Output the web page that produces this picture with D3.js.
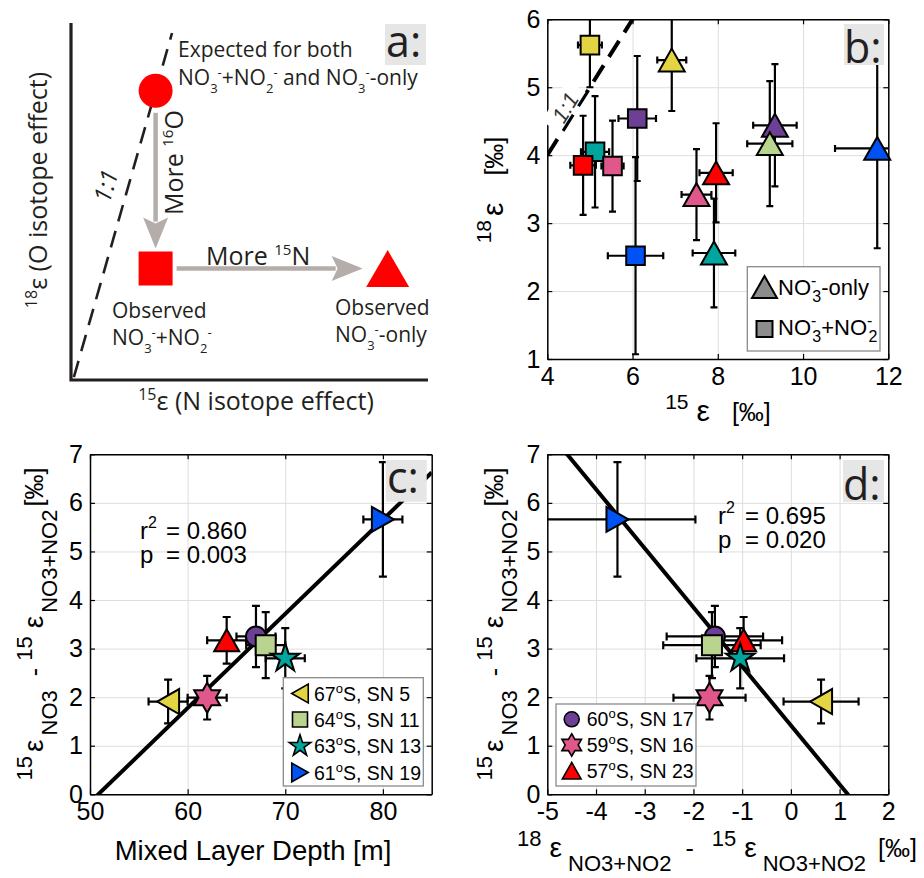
<!DOCTYPE html>
<html>
<head>
<meta charset="utf-8">
<script src="https://cdn.jsdelivr.net/npm/d3@7"></script>
<style>
body { margin: 0; background: #fff; }
svg { display: block; }
text { font-family: "Liberation Sans", Arial, sans-serif; white-space: pre; }
.sk text { font-family: "Open Sans", sans-serif; fill: #231f20; }
</style>
</head>
<body>
<script>
// ---- panel a: schematic, arbitrary units ----
const schemX = [2.37, 2.37, 8.87];   // expected, observed NO3+NO2, observed NO3-only
const schemY = [8.10, 3.12, 3.12];
const schemShape = ["o", "s", "^"];
const oneToOneA = [[0.08, 0.08], [2.83, 9.72]];

// ---- panel b ----
const bTicksX = [4, 6, 8, 10, 12];
const bTicksY = [1, 2, 3, 4, 5, 6];
const oneToOneB = [4, 6.3];
// squares: NO3- + NO2-
const sqStation = ["SN 5", "SN 13", "SN 23", "SN 16", "SN 17", "SN 19"];
const sqE15 = [5.00, 5.12, 4.84, 5.53, 6.11, 6.07];
const sqE15Err = [0.28, 0.33, 0.30, 0.26, 0.44, 0.65];
const sqE18 = [5.62, 4.05, 3.85, 3.84, 4.54, 2.52];
const sqE18Err = [0.62, 0.82, 0.73, 0.67, 0.92, 1.45];
// triangles: NO3- only
const triStation = ["SN 5", "SN 17", "SN 11", "SN 19", "SN 23", "SN 16", "SN 13"];
const triE15 = [6.92, 9.34, 9.22, 11.74, 7.96, 7.50, 7.91];
const triE15Err = [0.34, 0.51, 0.53, 0.99, 0.39, 0.35, 0.50];
const triE18 = [5.40, 4.44, 4.17, 4.10, 3.74, 3.42, 2.56];
const triE18Err = [0.75, 0.90, 0.92, 1.47, 0.73, 0.67, 0.80];

// ---- panels c and d ----
const station = ["SN 5", "SN 16", "SN 23", "SN 17", "SN 11", "SN 13", "SN 19"];
const latitude = [67, 59, 57, 60, 64, 63, 61];
const shape = ["<", "h", "^", "o", "s", "p", ">"];
const mld = [58, 62, 64, 67, 68, 70, 80];
const mldErr = [2, 2, 2, 2, 2, 2, 2];
const dEps15 = [1.91, 1.99, 3.17, 3.25, 3.07, 2.80, 5.66];
const dEps15Err = [0.45, 0.45, 0.48, 0.63, 0.68, 0.62, 1.18];
const dEpsOx = [0.62, -1.67, -0.97, -1.56, -1.62, -1.04, -3.56];
const dEpsOxErr = [0.77, 0.74, 0.79, 0.99, 1.00, 0.90, 1.60];
const fitC = [0.194, -9.865];   // slope, intercept
const fitD = [-1.215, 1.42];
const statC = ["0.860", "0.003"];
const statD = ["0.695", "0.020"];
const cTicksX = [50, 60, 70, 80];
const dTicksX = [-5, -4, -3, -2, -1, 0, 1, 2];
const cdTicksY = [0, 1, 2, 3, 4, 5, 6, 7];
const legendC = ["SN 5", "SN 11", "SN 13", "SN 19"];
const legendD = ["SN 17", "SN 16", "SN 23"];

const stationColor = {
  "SN 5": "#e2d443", "SN 11": "#b9d48e", "SN 13": "#00a69e", "SN 19": "#0052f4",
  "SN 17": "#6d3f95", "SN 16": "#e0588b", "SN 23": "#ff0000"
};

const svg = d3.select("body").append("svg").attr("width", 924).attr("height", 878);

function markerPath(sh, r) {
  if (sh === "o") return d3.symbol(d3.symbolCircle, Math.PI * r * r)();
  if (sh === "s") return `M${-r},${-r}H${r}V${r}H${-r}Z`;
  const w = r * 1.25, h = r * 1.1;
  if (sh === "^") return `M0,${-h}L${w},${h}L${-w},${h}Z`;
  if (sh === "<") return `M${-h},0L${h},${-w}L${h},${w}Z`;
  if (sh === ">") return `M${h},0L${-h},${-w}L${-h},${w}Z`;
  const n = sh === "p" ? 5 : 6, R = r * 1.5;
  const ri = sh === "p" ? R * 0.382 : R / Math.sqrt(3);
  const pts = d3.range(2 * n).map(i => {
    const a = -Math.PI / 2 + i * Math.PI / n, rr = i % 2 ? ri : R;
    return [rr * Math.cos(a), rr * Math.sin(a)];
  });
  return "M" + pts.join("L") + "Z";
}

// text with sub/superscripts: parts = [text, kind, dx, absX]
function rich(g, parts, o) {
  const t = g.append("text").attr("font-size", o.size);
  let cur = 0;
  parts.forEach(([s, k, dx, ax]) => {
    const shift = k === "sub" ? o.sub : k === "sup" ? -o.sup : 0;
    const ts = t.append("tspan").attr("dy", shift - cur).text(s)
      .attr("font-size", k ? o.small : (o.big && s === "ε" ? o.big : o.size));
    if (dx) ts.attr("dx", dx);
    if (ax !== undefined) ts.attr("x", ax);
    cur = shift;
  });
  return t;
}

function frame(g, x, y, xt, yt, id) {
  const [xl, xr] = x.range(), [yb, yt0] = y.range();
  const w = xr - xl, h = yb - yt0;
  svg.append("clipPath").attr("id", id).append("rect")
    .attr("x", xl).attr("y", yt0).attr("width", w).attr("height", h);
  const grid = g.append("g");
  grid.append("g").attr("transform", `translate(0,${yb})`)
    .call(d3.axisBottom(x).tickValues(xt).tickSize(-h).tickFormat(""));
  grid.append("g").attr("transform", `translate(${xl},0)`)
    .call(d3.axisLeft(y).tickValues(yt).tickSize(-w).tickFormat(""));
  grid.selectAll(".domain").remove();
  grid.selectAll("line").attr("stroke", "#dedede").attr("stroke-width", 1);
}

function axes(g, x, y, xt, yt) {
  const [xl, xr] = x.range(), [yb, yt0] = y.range();
  const fmt = d => String(d);
  const ax = g.append("g");
  ax.append("g").attr("transform", `translate(0,${yb})`)
    .call(d3.axisBottom(x).tickValues(xt).tickSizeInner(-5).tickSizeOuter(0).tickPadding(8).tickFormat(fmt));
  ax.append("g").attr("transform", `translate(0,${yt0})`)
    .call(d3.axisTop(x).tickValues(xt).tickSizeInner(-5).tickSizeOuter(0).tickFormat(""));
  ax.append("g").attr("transform", `translate(${xl},0)`)
    .call(d3.axisLeft(y).tickValues(yt).tickSizeInner(-5).tickSizeOuter(0).tickPadding(7).tickFormat(fmt));
  ax.append("g").attr("transform", `translate(${xr},0)`)
    .call(d3.axisRight(y).tickValues(yt).tickSizeInner(-5).tickSizeOuter(0).tickFormat(""));
  ax.selectAll(".domain").attr("stroke", "#000").attr("stroke-width", 1.5);
  ax.selectAll(".tick line").attr("stroke", "#000").attr("stroke-width", 1.2);
  ax.selectAll("text").attr("font-size", 25).attr("fill", "#000")
    .attr("font-family", "Liberation Sans, Arial, sans-serif");
}

function errBars(g, x, y, pts, cap, id) {
  g.append("g").attr("clip-path", `url(#${id})`)
    .selectAll("path").data(pts).join("path")
    .attr("fill", "none").attr("stroke", "#000").attr("stroke-width", 2.2)
    .attr("d", p => {
      const cx = x(p.x), cy = y(p.y);
      const y1 = y(p.y + p.ye), y2 = y(p.y - p.ye);
      const x1 = x(p.x - p.xe), x2 = x(p.x + p.xe);
      return `M${cx},${y1}V${y2}M${cx - cap},${y1}H${cx + cap}M${cx - cap},${y2}H${cx + cap}` +
        `M${x1},${cy}H${x2}M${x1},${cy - cap}V${cy + cap}M${x2},${cy - cap}V${cy + cap}`;
    });
}

function markers(g, x, y, pts, r) {
  g.append("g").selectAll("path").data(pts).join("path")
    .attr("transform", p => `translate(${x(p.x)},${y(p.y)})`)
    .attr("d", p => markerPath(p.shape, r))
    .attr("fill", p => p.color).attr("stroke", "#000").attr("stroke-width", 2);
}

function tag(rx, ry, rw, rh, s, tx, ty) {
  const g = svg.append("g").attr("class", "sk");
  g.append("rect").attr("x", rx).attr("y", ry).attr("width", rw).attr("height", rh).attr("fill", "#e6e6e6");
  g.append("text").attr("x", tx).attr("y", ty).attr("font-size", 43).text(s);
}

function arrow(g, x1, y1, x2, y2) {
  const L = Math.hypot(x2 - x1, y2 - y1), ux = (x2 - x1) / L, uy = (y2 - y1) / L;
  const px = -uy, py = ux, hl = 31, hw = 12.5;
  g.append("line").attr("x1", x1).attr("y1", y1)
    .attr("x2", x2 - ux * (hl - 4)).attr("y2", y2 - uy * (hl - 4))
    .attr("stroke", "#b4adaa").attr("stroke-width", 4.5);
  const bx = x2 - ux * hl, by = y2 - uy * hl;
  g.append("path").attr("fill", "#b4adaa")
    .attr("d", `M${x2},${y2}L${bx + px * hw},${by + py * hw}L${x2 - ux * (hl - 6)},${y2 - uy * (hl - 6)}L${bx - px * hw},${by - py * hw}Z`);
}

// ================= panel a =================
const xa = d3.scaleLinear().domain([0, 10]).range([71, 428]);
const ya = d3.scaleLinear().domain([0, 10]).range([380, 23]);
const ga = svg.append("g").attr("class", "sk");
ga.append("path").attr("d", `M${xa(0)},${ya(10)}V${ya(0)}H${xa(10)}`)
  .attr("fill", "none").attr("stroke", "#231f20").attr("stroke-width", 3.2);
ga.append("path").attr("d", d3.line()(oneToOneA.map(p => [xa(p[0]), ya(p[1])])))
  .attr("fill", "none").attr("stroke", "#231f20").attr("stroke-width", 2.6).attr("stroke-dasharray", "17 10");
ga.append("text").attr("transform", "translate(106,186) rotate(-74)").attr("text-anchor", "middle")
  .attr("dy", "0.35em").attr("font-size", 24).attr("font-style", "italic")
  .attr("stroke", "#fff").attr("stroke-width", 5).attr("paint-order", "stroke").text("1:1");
arrow(ga, xa(schemX[0]), ya(schemY[0]) + 22, xa(schemX[1]), ya(schemY[1]) - 20);
arrow(ga, xa(schemX[1]) + 21, ya(schemY[1]), xa(schemX[2]) - 25, ya(schemY[2]));
ga.append("g").selectAll("path").data(schemX).join("path")
  .attr("transform", (d, i) => `translate(${xa(d)},${ya(schemY[i])})`)
  .attr("d", (d, i) => schemShape[i] === "^"
    ? "M0,-18.5L21.5,18.5L-21.5,18.5Z" : markerPath(schemShape[i], 17))
  .attr("fill", "#ff0000");

const aTxt = { size: 21, small: 13, sub: 8, sup: 8 };
rich(ga, [["Expected for both"]], aTxt).attr("x", 178).attr("y", 57);
rich(ga, [["NO"], ["3", "sub"], ["-", "sup"], ["+NO"], ["2", "sub"], ["-", "sup"], [" and NO"], ["3", "sub"], ["-", "sup"], ["-only"]], aTxt)
  .attr("x", 178).attr("y", 85);
rich(ga, [["Observed"]], aTxt).attr("x", 112).attr("y", 318);
rich(ga, [["NO"], ["3", "sub"], ["-", "sup"], ["+NO"], ["2", "sub"], ["-", "sup"]], aTxt).attr("x", 112).attr("y", 345);
rich(ga, [["Observed"]], aTxt).attr("x", 335).attr("y", 315);
rich(ga, [["NO"], ["3", "sub"], ["-", "sup"], ["-only"]], aTxt).attr("x", 335).attr("y", 342);
const moreTxt = { size: 25, small: 15, sub: 8, sup: 10 };
rich(ga, [["More "], ["16", "sup"], ["O"]], moreTxt).attr("transform", "translate(183,215) rotate(-90)");
rich(ga, [["More "], ["15", "sup"], ["N"]], moreTxt).attr("x", 206).attr("y", 265);
const axTxt = { size: 25, small: 16, sub: 8, sup: 10 };
rich(ga, [["18", "sup"], ["ε"], [" (O isotope effect)"]], axTxt)
  .attr("text-anchor", "middle").attr("transform", "translate(47,190) rotate(-90)");
rich(ga, [["15", "sup"], ["ε"], [" (N isotope effect)"]], axTxt)
  .attr("text-anchor", "middle").attr("x", 256).attr("y", 410);

// ================= panel b =================
const xb = d3.scaleLinear().domain([4, 12]).range([547.3, 888.3]);
const yb = d3.scaleLinear().domain([1, 6]).range([359, 19.3]);
const gb = svg.append("g");
frame(gb, xb, yb, bTicksX, bTicksY, "clipB");
axes(gb, xb, yb, bTicksX, bTicksY);
gb.append("path").attr("clip-path", "url(#clipB)")
  .attr("d", d3.line()(oneToOneB.map(v => [xb(v), yb(v)])))
  .attr("fill", "none").attr("stroke", "#000").attr("stroke-width", 4).attr("stroke-dasharray", "19 10");
const oneB = gb.append("g").attr("transform", `translate(${xb(4.42)},${yb(4.70)}) rotate(-58)`);
oneB.append("rect").attr("x", -24).attr("y", -13).attr("width", 48).attr("height", 22).attr("fill", "#fff");
oneB.append("text").attr("text-anchor", "middle").attr("dy", "0.35em").attr("font-size", 22)
  .attr("font-style", "italic").attr("font-family", "Open Sans, sans-serif").attr("fill", "#333").text("1:1");
const sqPts = sqStation.map((s, i) => ({ x: sqE15[i], y: sqE18[i], xe: sqE15Err[i], ye: sqE18Err[i], shape: "s", color: stationColor[s] }));
const triPts = triStation.map((s, i) => ({ x: triE15[i], y: triE18[i], xe: triE15Err[i], ye: triE18Err[i], shape: "^", color: stationColor[s] }));
errBars(gb, xb, yb, sqPts.concat(triPts), 3.5, "clipB");
markers(gb, xb, yb, sqPts, 9.3);
markers(gb, xb, yb, triPts, 10.4);
const labTxt = { size: 25, small: 21, sub: 15, sup: 12, big: 30 };
rich(gb, [["18", "sup"], ["ε", "", 4], ["[‰]", "", 27]], labTxt)
  .attr("text-anchor", "middle").attr("transform", "translate(503,190) rotate(-90)");
rich(gb, [["15", "sup"], ["ε", "", 8], ["[‰]", "", 22]], labTxt)
  .attr("text-anchor", "middle").attr("x", 718).attr("y", 421);
// legend b
const lb = gb.append("g");
lb.append("rect").attr("x", 747.3).attr("y", 266.7).attr("width", 132.7).attr("height", 84.3)
  .attr("fill", "#fff").attr("stroke", "#8a8a8a").attr("stroke-width", 1.3);
lb.append("path").attr("transform", "translate(764.5,287)").attr("d", markerPath("^", 10))
  .attr("fill", "#8c8c8c").attr("stroke", "#000").attr("stroke-width", 2);
lb.append("path").attr("transform", "translate(764.5,329)").attr("d", markerPath("s", 8))
  .attr("fill", "#8c8c8c").attr("stroke", "#000").attr("stroke-width", 2);
const lbTxt = { size: 22, small: 16, sub: 7, sup: 9 };
rich(lb, [["NO"], ["-", "sup"], ["3", "sub", -4], ["-only"]], lbTxt).attr("x", 778).attr("y", 295);
rich(lb, [["NO"], ["-", "sup"], ["3", "sub", -4], ["+NO"], ["-", "sup"], ["2", "sub", -4]], lbTxt).attr("x", 778).attr("y", 335);

// ================= panel c =================
const xc = d3.scaleLinear().domain([50, 85]).range([90, 431.7]);
const yc = d3.scaleLinear().domain([0, 7]).range([794.3, 454.3]);
const gc = svg.append("g");
frame(gc, xc, yc, cTicksX, cdTicksY, "clipC");
axes(gc, xc, yc, cTicksX, cdTicksY);
gc.append("path").attr("clip-path", "url(#clipC)")
  .attr("d", d3.line()(xc.domain().map(v => [xc(v), yc(fitC[0] * v + fitC[1])])))
  .attr("stroke", "#000").attr("stroke-width", 4).attr("fill", "none");
const cPts = station.map((s, i) => ({ x: mld[i], y: dEps15[i], xe: mldErr[i], ye: dEps15Err[i], shape: shape[i], color: stationColor[s] }));
errBars(gc, xc, yc, cPts, 4, "clipC");
markers(gc, xc, yc, cPts, 10);
const cdLab = { size: 25, small: 22, sub: 14, sup: 11, big: 28 };
rich(gc, [["15", "sup"], ["ε", "", 4], ["NO3", "sub", 4], ["-", "", 14], ["15", "sup", 7], ["ε", "", 8], ["NO3+NO2", "sub", 3], ["[‰]", "", 3]], cdLab)
  .attr("text-anchor", "middle").attr("transform", "translate(43,624) rotate(-90)");
gc.append("text").attr("x", 253).attr("y", 860).attr("text-anchor", "middle").attr("font-size", 27.5)
  .text("Mixed Layer Depth [m]");
const stTxt = { size: 24, small: 16, sub: 8, sup: 11 };
rich(gc, [["r"], ["2", "sup"], ["= " + statC[0], "", 0, 166]], stTxt).attr("x", 140).attr("y", 539);
rich(gc, [["p"], ["= " + statC[1], "", 0, 166]], stTxt).attr("x", 140).attr("y", 563);

function legend(g, keys, bx, by, bw, bh, mx, tx, rowY) {
  const lg = g.append("g");
  lg.append("rect").attr("x", bx).attr("y", by).attr("width", bw).attr("height", bh)
    .attr("fill", "#fff").attr("stroke", "#8a8a8a").attr("stroke-width", 1.3);
  keys.forEach((k, j) => {
    const i = station.indexOf(k);
    lg.append("path").attr("transform", `translate(${mx},${rowY[j]})`)
      .attr("d", markerPath(shape[i], 7.5)).attr("fill", stationColor[k])
      .attr("stroke", "#000").attr("stroke-width", 1.6);
    rich(lg, [[String(latitude[i])], ["o", "sup"], ["S, " + k]], { size: 19.5, small: 13, sub: 6, sup: 8 })
      .attr("x", tx).attr("y", rowY[j] + 7);
  });
}
legend(gc, legendC, 283.3, 677.7, 140, 108.3, 300, 314, [693.5, 719.5, 746, 772.5]);

// ================= panel d =================
const xd = d3.scaleLinear().domain([-5, 2]).range([547.3, 888.3]);
const yd = d3.scaleLinear().domain([0, 7]).range([794.3, 454.3]);
const gd = svg.append("g");
frame(gd, xd, yd, dTicksX, cdTicksY, "clipD");
axes(gd, xd, yd, dTicksX, cdTicksY);
gd.append("path").attr("clip-path", "url(#clipD)")
  .attr("d", d3.line()(xd.domain().map(v => [xd(v), yd(fitD[0] * v + fitD[1])])))
  .attr("stroke", "#000").attr("stroke-width", 4).attr("fill", "none");
const dPts = station.map((s, i) => ({ x: dEpsOx[i], y: dEps15[i], xe: dEpsOxErr[i], ye: dEps15Err[i], shape: shape[i], color: stationColor[s] }));
errBars(gd, xd, yd, dPts, 4, "clipD");
markers(gd, xd, yd, dPts, 10);
rich(gd, [["15", "sup"], ["ε", "", 4], ["NO3", "sub", 4], ["-", "", 14], ["15", "sup", 7], ["ε", "", 8], ["NO3+NO2", "sub", 3], ["[‰]", "", 3]], cdLab)
  .attr("text-anchor", "middle").attr("transform", "translate(503,624) rotate(-90)");
rich(gd, [["18", "sup"], ["ε", "", 8], ["NO3+NO2", "sub", 6], ["-", "", 14], ["15", "sup", 18], ["ε", "", 8], ["NO3+NO2", "sub", 6], ["[‰]", "", 12]], cdLab)
  .attr("text-anchor", "middle").attr("x", 717).attr("y", 857);
rich(gd, [["r"], ["2", "sup"], ["= " + statD[0], "", 0, 745]], stTxt).attr("x", 718).attr("y", 524);
rich(gd, [["p"], ["= " + statD[1], "", 0, 745]], stTxt).attr("x", 718).attr("y", 548);
legend(gd, legendD, 556, 704, 140, 82, 571.7, 586.7, [719.3, 745, 770.7]);

// ---- panel tags ----
tag(385, 24, 41, 41, "a:", 386, 57);
tag(844, 24, 40, 41, "b:", 844, 63);
tag(385.7, 460, 41, 41.7, "c:", 387, 493);
tag(843, 460, 41, 42, "d:", 843, 500);
</script>
</body>
</html>
